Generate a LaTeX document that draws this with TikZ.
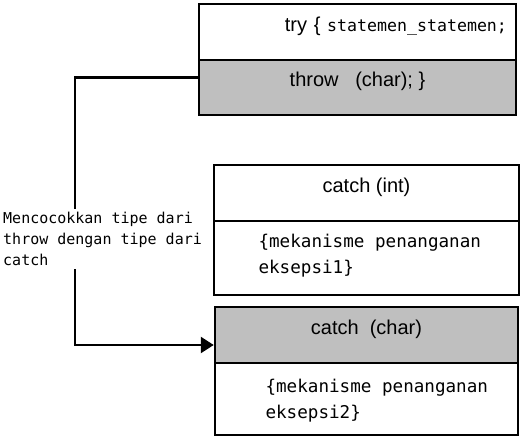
\documentclass[tikz,border=0pt]{standalone}
\usepackage{fontspec}
\setmainfont{Liberation Sans}
\newfontfamily\codefont{DejaVu Sans Mono}
\usetikzlibrary{arrows.meta,positioning,calc}

\tikzset{
  part/.style={draw,line width=2.5pt,rectangle,inner sep=0pt,font=\fontsize{20}{22}\selectfont},
  headpart/.style={part,text height=15pt,text depth=17pt},
  shaded/.style={headpart,fill=black!25},
  codetext/.style={font=\codefont\fontsize{17.6}{26}\selectfont,align=left}
}

\begin{document}
\begin{tikzpicture}[x=1pt,y=-1pt,>={Triangle[length=13pt,width=16pt]}]
\useasboundingbox[fill=white] (0,0) rectangle (531,445);
\node[headpart,minimum width=317pt,minimum height=56pt,text width=299pt,align=right] (try) at (357.5,32) {try \{ {\codefont\fontsize{16.6}{20}\selectfont statemen\_statemen;}};
\node[shaded,minimum width=317pt,minimum height=55pt] (throw) at (357.5,87.5) {throw\ \ \ (char); \}};
\node[headpart,minimum width=305pt,minimum height=56pt] (head1) at (366.5,193) {catch (int)};
\node[part,minimum width=305pt,minimum height=74pt] (body1) at (366.5,258) {};
\node[codetext,anchor=west] (txt1) at (255,256) {\{mekanisme penanganan\\eksepsi1\}};
\node[shaded,minimum width=303pt,minimum height=56pt] (head2) at (366.5,335) {catch\ \ (char)};
\node[part,minimum width=303pt,minimum height=72pt] (body2) at (366.5,399) {};
\node[codetext,anchor=west] (txt2) at (262,401) {\{mekanisme penanganan\\eksepsi2\}};
\draw[->,line width=2.5pt] ([yshift=10pt]throw.west) -- ++(-123,0) |- ([yshift=-10pt]head2.west);
\node[fill=white,anchor=west,inner xsep=0pt,inner ysep=3pt,align=left,font=\codefont\fontsize{15}{21}\selectfont] (match) at (3,239) {Mencocokkan tipe dari\\throw dengan tipe dari\\catch};
\end{tikzpicture}
\end{document}
